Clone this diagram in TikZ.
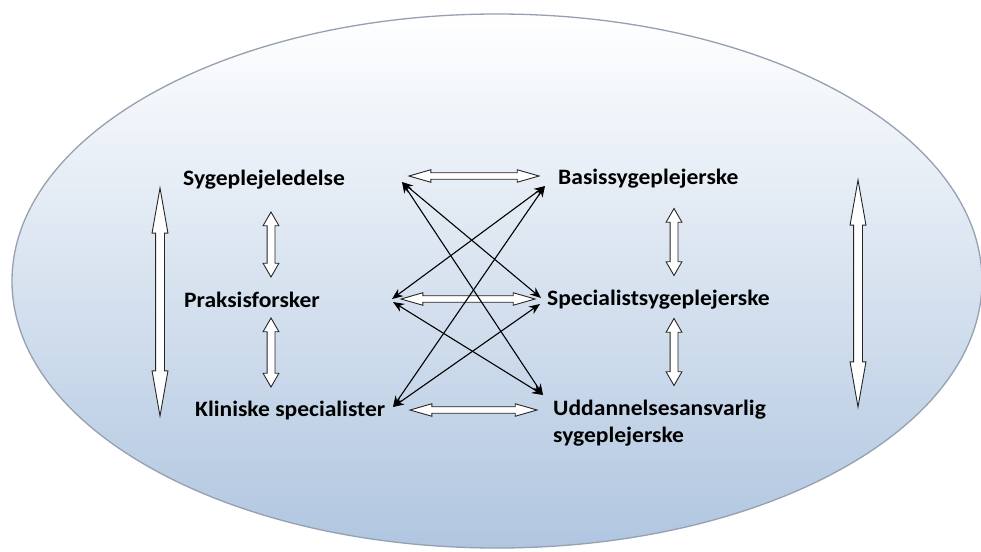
\documentclass[tikz,border=0pt]{standalone}
\usepackage{fontspec}
\setmainfont{Carlito}
\usetikzlibrary{shapes.arrows,arrows.meta}
\definecolor{ellbot}{RGB}{176,198,224}
\definecolor{ellborder}{RGB}{150,160,176}
\begin{document}
\begin{tikzpicture}[x=1pt,y=-1pt,
  lbl/.style={font=\fontsize{22}{27}\selectfont\bfseries, inner sep=0pt, anchor=base west, xscale=1.07},
  blk/.style={shape=double arrow, draw=black!85, fill=white, line width=0.9pt, inner xsep=0pt},
  bigv/.style={blk, rotate=90, inner ysep=4pt, double arrow head extend=3.5pt, double arrow tip angle=20},
  smallv/.style={blk, rotate=90, inner ysep=3.5pt, double arrow head extend=4pt, double arrow tip angle=60},
  smallh/.style={blk, inner ysep=2.8pt, double arrow head extend=3pt, double arrow tip angle=32},
  thin/.style={line width=1.1pt, {Stealth[length=11pt,width=9pt]}-{Stealth[length=11pt,width=9pt]}}
]
\fill[white] (0,0) rectangle (981,551);
\useasboundingbox (0,0) rectangle (981,551);
% ellipse background
\path[draw=ellborder, line width=1.3pt, top color=white, bottom color=ellbot]
  (497,281) ellipse [x radius=485, y radius=267];

% labels
\node[lbl] (syg) at (183,185) {Sygeplejeledelse};
\node[lbl] (pra) at (184,307) {Praksisforsker};
\node[lbl] (kli) at (195,416) {Kliniske specialister};
\node[lbl] (bas) at (558,184) {Basissygeplejerske};
\node[lbl] (spe) at (547,305) {Specialistsygeplejerske};
\node[lbl, align=left] (udd) at (553,442) {Uddannelsesansvarlig\\sygeplejerske};

% big vertical block arrows
\node[bigv, minimum height=228pt] (bl) at (160,302) {};
\node[bigv, minimum height=227pt] (br) at (858,293.5) {};
% small vertical block arrows
\node[smallv, minimum height=65pt] (v1) at (271,244.5) {};
\node[smallv, minimum height=69pt] (v2) at (271,352.5) {};
\node[smallv, minimum height=67pt] (v3) at (674,242) {};
\node[smallv, minimum height=67pt] (v4) at (674,352) {};
% horizontal block arrows
\node[smallh, minimum height=130pt] (h1) at (474,176) {};
\node[smallh, minimum height=134pt] (h2) at (468,299) {};
\node[smallh, minimum height=127pt] (h3) at (473.5,410) {};

% endpoints of thin arrows
\coordinate (A) at (402,182);
\coordinate (B) at (545,186);
\coordinate (P1) at (392,299);
\coordinate (P2) at (393,302);
\coordinate (S1) at (541,298);
\coordinate (S2) at (540,304);
\coordinate (K) at (393,407);
\coordinate (U) at (543,395);

\draw[thin] (A) -- (S1);
\draw[thin] (A) -- (U);
\draw[thin] (B) -- (P1);
\draw[thin] (B) -- (K);
\draw[thin] (P2) -- (U);
\draw[thin] (K) -- (S2);
\end{tikzpicture}
\end{document}
